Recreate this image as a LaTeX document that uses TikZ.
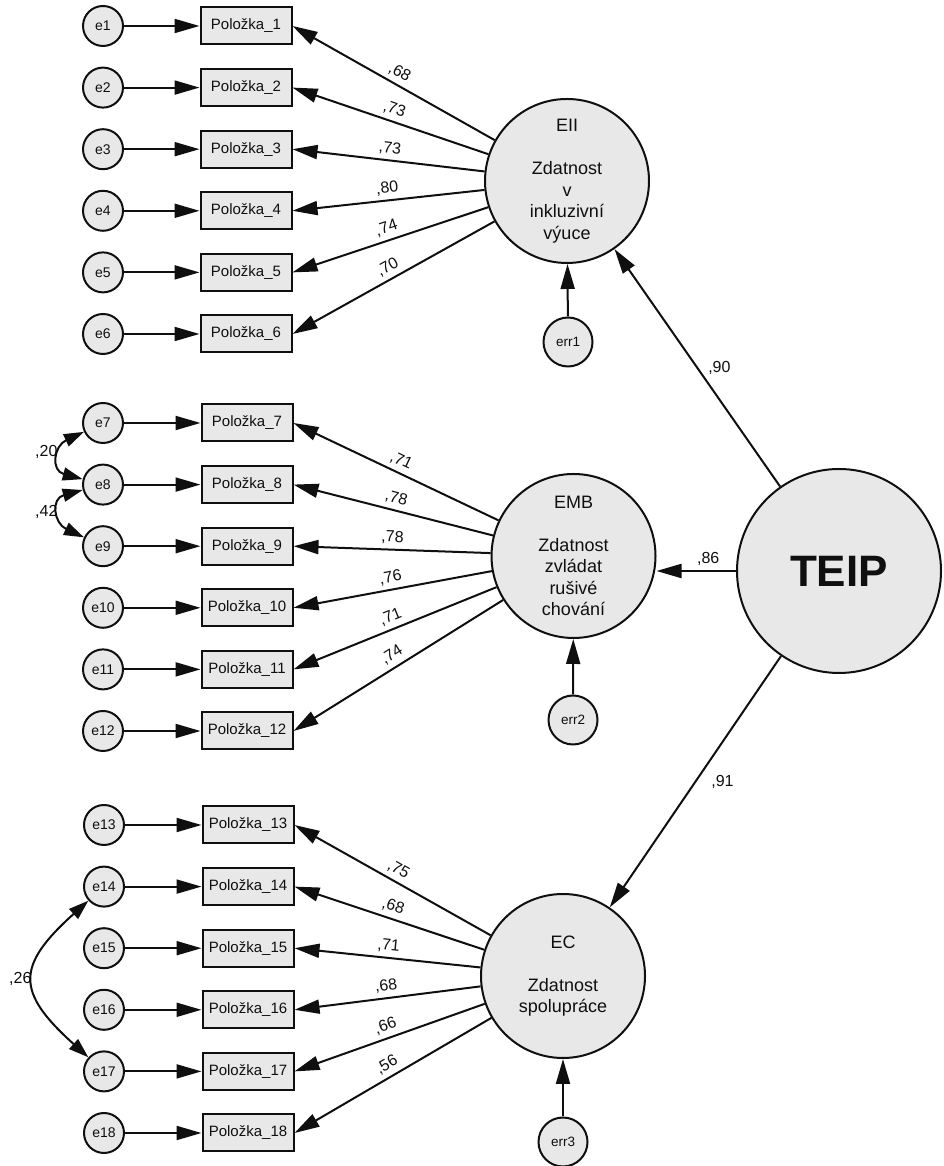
\documentclass[tikz,border=0pt]{standalone}
\usepackage{fontspec}
\setmainfont{Liberation Sans}
\usetikzlibrary{arrows.meta}
\definecolor{fillg}{RGB}{232,232,232}
\definecolor{ink}{RGB}{15,15,15}
\begin{document}
\begin{tikzpicture}[x=1pt,y=1pt,
  every node/.style={text=ink},
  lat/.style={circle, draw=ink, line width=2pt, fill=fillg, minimum size=164pt, inner sep=0pt, align=center, font=\fontsize{18}{21.5}\selectfont},
  errc/.style={circle, draw=ink, line width=2pt, fill=fillg, minimum size=40pt, inner sep=0pt, font=\fontsize{14}{16}\selectfont},
  errl/.style={circle, draw=ink, line width=2pt, fill=fillg, minimum size=49pt, inner sep=0pt, font=\fontsize{13.5}{16}\selectfont},
  item/.style={rectangle, draw=ink, line width=2pt, fill=fillg, minimum width=91pt, minimum height=37pt, inner sep=0pt, font=\fontsize{15}{17}\selectfont},
  arr/.style={draw=ink, line width=2pt, -{Triangle[length=25pt,width=14pt]}},
  cov/.style={draw=ink, line width=2pt, {Triangle[length=20pt,width=13pt]}-{Triangle[length=20pt,width=13pt]}},
  lab/.style={font=\fontsize{16}{18}\selectfont, inner sep=3pt}
]
\useasboundingbox (0,0) rectangle (943,1166);

% latent variables
\node[lat] (EII) at (567,985) {EII\\[21.5pt]Zdatnost\\v\\inkluzivní\\výuce};
\node[lat] (EMB) at (573.5,610) {EMB\\[21.5pt]Zdatnost\\zvládat\\rušivé\\chování};
\node[lat] (EC) at (563,190) {EC\\[21.5pt]Zdatnost\\spolupráce};
\node[lat, minimum size=204pt, font=\fontsize{44}{50}\selectfont\bfseries] (TEIP) at (839,595) {TEIP};

\node[errl] (err1) at (568,824) {err1};
\node[errl] (err2) at (573,446) {err2};
\node[errl] (err3) at (563,24) {err3};

% indicators and errors
\foreach \i [count=\k from 0] in {1,...,6} {
  \node[item] (P\i) at (246,{1140-61.6*\k}) {Položka\_\i};
  \node[errc] (e\i) at (103,{1140-61.6*\k}) {e\i};
  \draw[arr] (e\i) -- (P\i);
}
\foreach \i [count=\k from 0] in {7,...,12} {
  \node[item] (P\i) at (247,{743-61.6*\k}) {Položka\_\i};
  \node[errc] (e\i) at (103,{743-61.6*\k}) {e\i};
  \draw[arr] (e\i) -- (P\i);
}
\foreach \i [count=\k from 0] in {13,...,18} {
  \node[item] (P\i) at (248,{341-61.6*\k}) {Položka\_\i};
  \node[errc] (e\i) at (104,{341-61.6*\k}) {e\i};
  \draw[arr] (e\i) -- (P\i);
}

% loadings
\foreach \i/\v in {1/68,2/73,3/73,4/80,5/74,6/70}
  \draw[arr] (EII) -- node[lab, midway, above=1.5pt, sloped] {,\v} (P\i.east);
\foreach \i/\v in {7/71,8/78,9/78,10/76,11/71,12/74}
  \draw[arr] (EMB) -- node[lab, midway, above=1.5pt, sloped] {,\v} (P\i.east);
\foreach \i/\v in {13/75,14/68,15/71,16/68,17/66,18/56}
  \draw[arr] (EC) -- node[lab, midway, above=1.5pt, sloped] {,\v} (P\i.east);

% disturbances
\draw[arr] (err1) -- (EII);
\draw[arr] (err2) -- (EMB);
\draw[arr] (err3) -- (EC);

% structural paths
\draw[arr] (TEIP) -- node[lab, midway, right=7pt] {,90} (EII);
\draw[arr] (TEIP.west) -- node[lab, pos=0.35, above=1pt] {,86} (TEIP.west -| EMB.east);
\draw[arr] (TEIP) -- node[lab, midway, right=12pt] {,91} (EC);

% covariances
\draw[cov] (e7) to[out=205,in=165,looseness=1.8] node[lab, left, inner sep=1.5pt, yshift=6pt] {,20} (e8);
\draw[cov] (e8) to[out=195,in=155,looseness=1.8] node[lab, left, inner sep=1.5pt] {,42} (e9);
\draw[cov] (e14) to[out=222,in=138,looseness=1.6] node[lab, left, inner sep=1.5pt] {,26} (e17);
\end{tikzpicture}
\end{document}
